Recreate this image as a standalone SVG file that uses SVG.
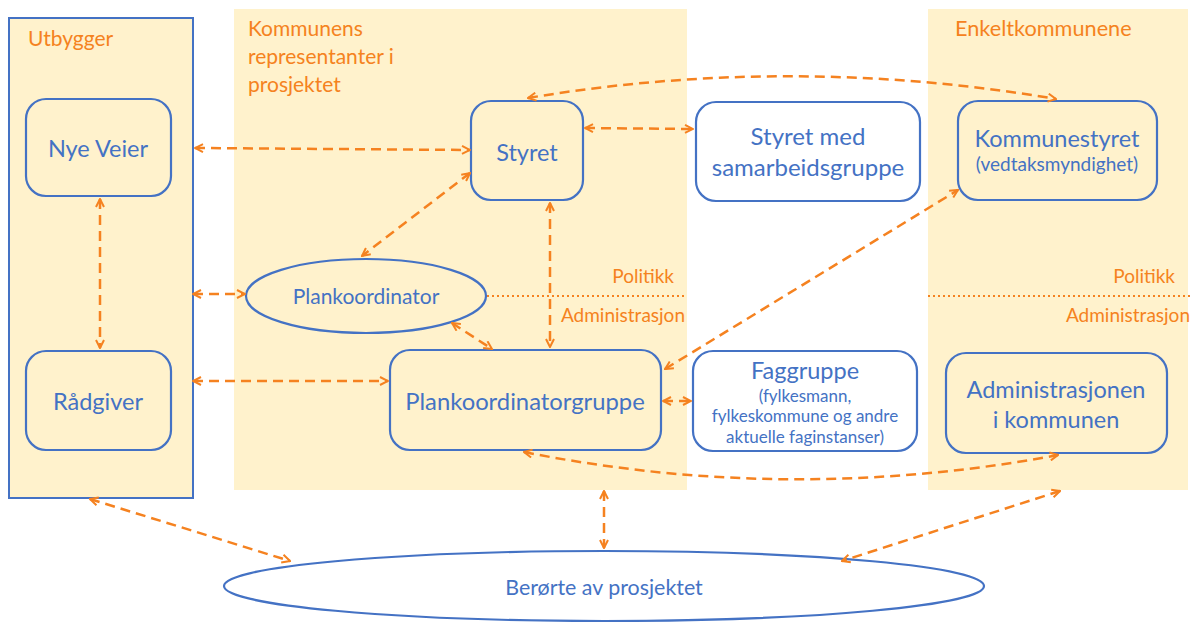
<svg xmlns="http://www.w3.org/2000/svg" width="1196" height="622" viewBox="0 0 1196 622">
<defs>
<style>
.panel{fill:#FFF2CC;stroke:none}
.box{stroke:#4472C4;stroke-width:2.2}
.y{fill:#FFF2CC}
.w{fill:#FFFFFF}
.t{font-family:Lato,"Open Sans","Liberation Sans",sans-serif;fill:#4472C4;text-anchor:middle}
.o{font-family:Lato,"Open Sans","Liberation Sans",sans-serif;fill:#F58220}
.s{font-size:19px;text-anchor:end}
.c{fill:none;stroke:#F58220;stroke-width:2.5;stroke-dasharray:10 6}
.dot{fill:none;stroke:#F58220;stroke-width:2;stroke-dasharray:2 3}
</style>
<marker id="ah" viewBox="0 0 10 10" refX="9" refY="5" markerWidth="10" markerHeight="10" markerUnits="userSpaceOnUse" orient="auto-start-reverse">
<path d="M1,1 L9,5 L1,9" fill="none" stroke="#F58220" stroke-width="2"/>
</marker>
</defs>
<rect width="1196" height="622" fill="#FFFFFF"/>
<g id="panels">
<rect class="panel" x="234" y="9" width="453" height="481"/>
<rect class="panel" x="928" y="9" width="260" height="481"/>
<rect x="9" y="18" width="184" height="480" fill="#FFF2CC" stroke="#4472C4" stroke-width="2"/>
<text class="o" x="28" y="46" font-size="21">Utbygger</text>
<text class="o" x="248" y="36" font-size="21">Kommunens</text>
<text class="o" x="248" y="64" font-size="21">representanter i</text>
<text class="o" x="248" y="92" font-size="21">prosjektet</text>
<text class="o" x="955" y="36" font-size="21.7">Enkeltkommunene</text>
<line class="dot" x1="487" y1="296" x2="687" y2="296"/>
<line class="dot" x1="928" y1="296" x2="1190" y2="296"/>
<text class="o s" x="674" y="283">Politikk</text>
<text class="o s" x="685" y="322">Administrasjon</text>
<text class="o s" x="1175" y="283">Politikk</text>
<text class="o s" x="1190" y="322">Administrasjon</text>
</g>
<g id="nye-veier"><rect class="box y" x="26" y="99" width="145" height="97" rx="20"/><text class="t" x="98" y="157" font-size="23.5">Nye Veier</text></g>
<g id="radgiver"><rect class="box y" x="26" y="351" width="145" height="99" rx="20"/><text class="t" x="98" y="410" font-size="23.5">Rådgiver</text></g>
<g id="styret"><rect class="box y" x="471" y="101" width="112" height="99" rx="20"/><text class="t" x="527" y="161" font-size="23.5">Styret</text></g>
<g id="styret-med"><rect class="box w" x="696" y="102" width="224" height="99" rx="20"/><text class="t" x="808" y="145" font-size="24">Styret med</text><text class="t" x="808" y="176" font-size="24">samarbeidsgruppe</text></g>
<g id="kommunestyret"><rect class="box y" x="958" y="101" width="199" height="99" rx="20"/><text class="t" x="1057" y="147" font-size="23.5">Kommunestyret</text><text class="t" x="1057" y="171" font-size="19">(vedtaksmyndighet)</text></g>
<g id="plankoordinator"><ellipse class="box y" cx="366" cy="296" rx="120" ry="37"/><text class="t" x="366" y="304" font-size="21">Plankoordinator</text></g>
<g id="plankoordinatorgruppe"><rect class="box y" x="390" y="350" width="271" height="100" rx="20"/><text class="t" x="525" y="410" font-size="23.8">Plankoordinatorgruppe</text></g>
<g id="faggruppe"><rect class="box w" x="693" y="351" width="224" height="100" rx="20"/><text class="t" x="805" y="379" font-size="23.5">Faggruppe</text><text class="t" x="805" y="402" font-size="17">(fylkesmann,</text><text class="t" x="805" y="422" font-size="17">fylkeskommune og andre</text><text class="t" x="805" y="443" font-size="17">aktuelle faginstanser)</text></g>
<g id="administrasjonen"><rect class="box y" x="946" y="353" width="221" height="100" rx="20"/><text class="t" x="1056" y="398" font-size="23.5">Administrasjonen</text><text class="t" x="1056" y="428" font-size="23.5">i kommunen</text></g>
<g id="berorte"><ellipse class="box w" cx="604" cy="586" rx="380" ry="35"/><text class="t" x="604" y="595" font-size="21.4">Berørte av prosjektet</text></g>
<g id="connectors">
<path class="c" d="M195,148 L470,150" marker-start="url(#ah)" marker-end="url(#ah)"/>
<path class="c" d="M585,128 L693,129" marker-start="url(#ah)" marker-end="url(#ah)"/>
<path class="c" d="M528,98 Q790,54 1056,99" marker-start="url(#ah)" marker-end="url(#ah)"/>
<path class="c" d="M470,173 L362,256" marker-start="url(#ah)" marker-end="url(#ah)"/>
<path class="c" d="M550,203 L550,347" marker-start="url(#ah)" marker-end="url(#ah)"/>
<path class="c" d="M100,199 L100,348" marker-start="url(#ah)" marker-end="url(#ah)"/>
<path class="c" d="M193,294 L245,294" marker-start="url(#ah)" marker-end="url(#ah)"/>
<path class="c" d="M193,381 L388,381" marker-start="url(#ah)" marker-end="url(#ah)"/>
<path class="c" d="M452,323 L492,349" marker-start="url(#ah)" marker-end="url(#ah)"/>
<path class="c" d="M665,369 L958,190" marker-start="url(#ah)" marker-end="url(#ah)"/>
<path class="c" d="M663,401 L691,401" marker-start="url(#ah)" marker-end="url(#ah)"/>
<path class="c" d="M524,452 Q790,505 1058,455" marker-start="url(#ah)" marker-end="url(#ah)"/>
<path class="c" d="M90,499 L290,561" marker-start="url(#ah)" marker-end="url(#ah)"/>
<path class="c" d="M604,491 L604,548" marker-start="url(#ah)" marker-end="url(#ah)"/>
<path class="c" d="M1060,491 L842,561" marker-start="url(#ah)" marker-end="url(#ah)"/>
</g>
</svg>
